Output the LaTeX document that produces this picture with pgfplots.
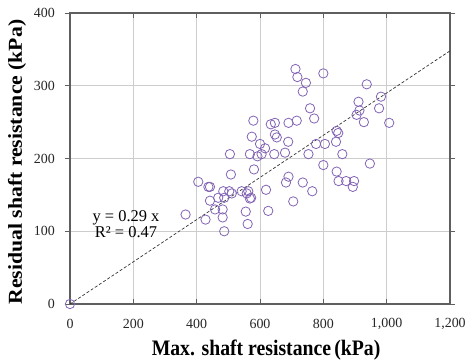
\documentclass[border=0pt]{standalone}
\usepackage{pgfplots}
\pgfplotsset{compat=1.18}
\usepackage{fontspec}
\setmainfont{Liberation Serif}
\definecolor{mk}{RGB}{130,100,180}
\definecolor{gr}{RGB}{205,205,205}
\definecolor{fr}{RGB}{95,95,95}
\begin{document}
\begin{tikzpicture}[x=1bp,y=1bp]
\useasboundingbox (-70,-56) rectangle (396,304);
\begin{axis}[
  at={(0,0)}, anchor=south west,
  scale only axis, width=380bp, height=291bp,
  xmin=0, xmax=1200, ymin=0, ymax=400,
  xtick={0,200,...,1200}, ytick={0,100,...,400},
  grid=major, major grid style={gr, line width=0.8pt},
  axis line style={fr, line width=1.3pt},
  tick style={fr, line width=0.9pt}, major tick length=5bp,
  xtick align=inside, ytick align=outside,
  /pgf/number format/assume math mode=true,
  /pgf/number format/1000 sep={,},
  tick label style={font=\fontsize{14}{15}\selectfont, text=black!85},
  xticklabel style={anchor=center, inner sep=0pt, yshift=-20bp},
  yticklabel style={anchor=east, inner sep=0pt, xshift=-10bp},
  xticklabel shift=0pt, yticklabel shift=0pt,
  xlabel={\scalebox{1}[1.12]{\textbf{Max. shaft resistance\,(kPa)}}},
  ylabel={\scalebox{1.1}[1]{\textbf{Residual shaft resistance (kPa)}}},
  label style={font=\fontsize{19.8}{20}\selectfont},
  xlabel style={at={(axis description cs:0.516,-0.158)}, anchor=center},
  ylabel style={at={(axis description cs:-0.1395,0.488)}, anchor=center},
  clip=false,
]
\addplot[black!80, densely dashed, line width=0.7pt, forget plot] coordinates {(0,0) (1200,348)};
\addplot[only marks, mark=o, mark size=4.7pt, mk, line width=0.8pt] coordinates {
(0,0) (365,123) (405,168) (428,116) (437,161) (442,161) (442,142) (458,130)
(468,146) (482,130) (482,119) (484,155) (487,100) (487,146) (503,155) (505,206)
(508,178) (511,152) (542,155) (555,127) (558,152) (561,110) (563,155) (568,206)
(568,145) (572,146) (574,230) (579,252) (581,185) (592,203) (600,220) (605,206)
(616,214) (619,157) (626,128) (634,247) (645,206) (647,249) (647,233) (653,229)
(679,208) (682,167) (689,223) (690,249) (690,175) (705,141) (712,323) (716,252)
(718,312) (735,167) (735,292) (745,304) (753,206) (758,269) (765,155) (771,255)
(777,220) (800,317) (800,191) (805,220) (840,223) (842,182) (842,238) (847,235)
(848,169) (860,206) (872,169) (893,161) (897,169) (905,260) (911,278) (914,266)
(928,250) (937,302) (947,193) (976,269) (982,285) (1008,249)
};
\node[anchor=center, font=\fontsize{16.5}{16}\selectfont, align=center, inner sep=0pt] at (axis cs:177,110) {y = 0.29 x\\R² = 0.47};
\end{axis}
\end{tikzpicture}
\end{document}
